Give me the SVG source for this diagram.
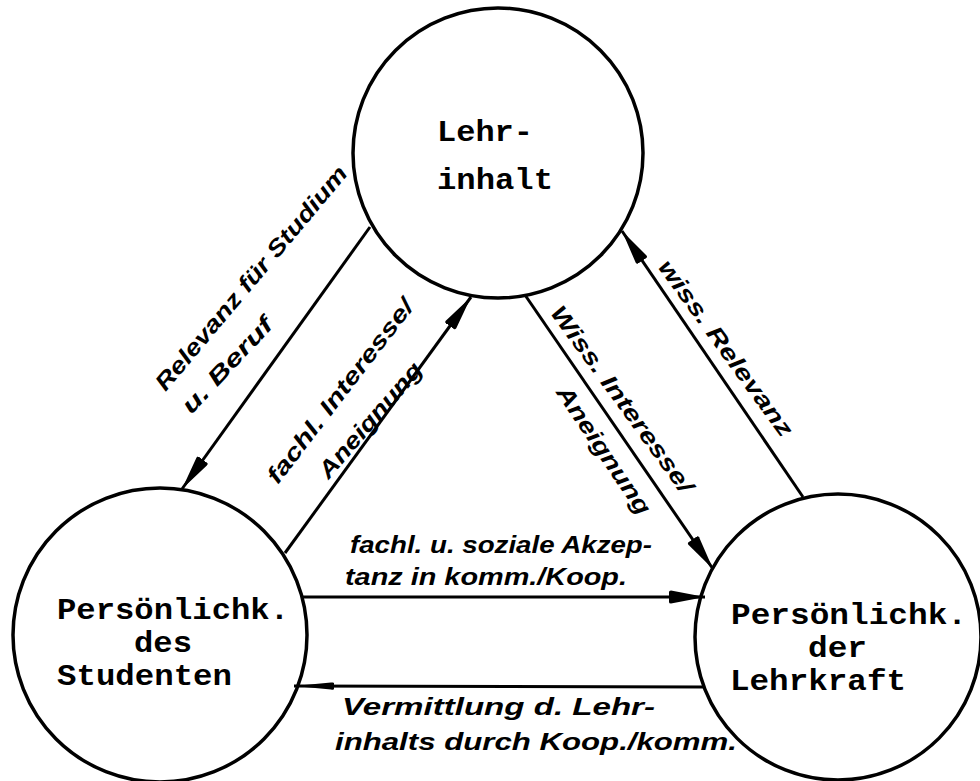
<svg xmlns="http://www.w3.org/2000/svg" width="980" height="781" viewBox="0 0 980 781">
<style>
.node{fill:none;stroke:#000;stroke-width:3.5}
.type{font-family:"Liberation Mono","DejaVu Sans Mono",monospace;font-weight:bold;font-size:29px;fill:#000}
.conn{stroke:#000;stroke-width:3;fill:none}
.hand{font-family:"Liberation Sans","DejaVu Sans",sans-serif;font-style:italic;font-weight:bold;font-size:23px;fill:#000}
</style>
<defs>
<marker id="arr" viewBox="0 0 36 14" refX="36" refY="7" markerWidth="36" markerHeight="14" markerUnits="userSpaceOnUse" orient="auto">
<path d="M0,2 Q0,0.5 2,0.5 L36,7 L2,13.5 Q0,13.5 0,12 Z" fill="#000"/>
</marker>
<marker id="arrThin" viewBox="0 0 40 8" refX="40" refY="4" markerWidth="40" markerHeight="8" markerUnits="userSpaceOnUse" orient="auto">
<path d="M0,1 Q0,0 3,0.5 L40,4 L3,7.5 Q0,8 0,7 Z" fill="#000"/>
</marker>
</defs>
<rect width="980" height="781" fill="#fff"/>
<g id="lehrinhalt">
<circle class="node" cx="498" cy="153" r="145"/>
<text class="type" x="437" y="141" textLength="96" lengthAdjust="spacingAndGlyphs">Lehr-</text>
<text class="type" x="437" y="189" textLength="116" lengthAdjust="spacingAndGlyphs">inhalt</text>
</g>
<g id="student">
<circle class="node" cx="160" cy="635" r="147"/>
<text class="type" x="57" y="619" textLength="232" lengthAdjust="spacingAndGlyphs">Persönlichk.</text>
<text class="type" x="134" y="652" textLength="58" lengthAdjust="spacingAndGlyphs">des</text>
<text class="type" x="57" y="685" textLength="175" lengthAdjust="spacingAndGlyphs">Studenten</text>
</g>
<g id="lehrkraft">
<circle class="node" cx="838" cy="637" r="143"/>
<text class="type" x="731" y="624" textLength="236" lengthAdjust="spacingAndGlyphs">Persönlichk.</text>
<text class="type" x="808" y="657" textLength="59" lengthAdjust="spacingAndGlyphs">der</text>
<text class="type" x="730" y="690" textLength="176" lengthAdjust="spacingAndGlyphs">Lehrkraft</text>
</g>
<g id="connectors">
<line class="conn" x1="370" y1="227" x2="182" y2="489" marker-end="url(#arr)"/>
<line class="conn" x1="285" y1="553" x2="471" y2="297" marker-end="url(#arr)"/>
<line class="conn" x1="525" y1="295" x2="713" y2="569" marker-end="url(#arr)"/>
<line class="conn" x1="803" y1="497" x2="622" y2="231" marker-end="url(#arr)"/>
<line class="conn" x1="301" y1="597" x2="705" y2="597" marker-end="url(#arr)"/>
<line class="conn" x1="705" y1="687" x2="294" y2="686" marker-end="url(#arrThin)"/>
</g>
<g id="labels">
<text class="hand" transform="translate(251,278) rotate(-50)" x="0" y="8" text-anchor="middle" textLength="285" lengthAdjust="spacingAndGlyphs">Relevanz für Studium</text>
<text class="hand" transform="translate(227,365) rotate(-47)" x="0" y="8" text-anchor="middle" textLength="122" lengthAdjust="spacingAndGlyphs">u. Beruf</text>
<text class="hand" transform="translate(340,391) rotate(-52.5)" x="0" y="8" text-anchor="middle" textLength="225" lengthAdjust="spacingAndGlyphs">fachl. Interesse/</text>
<text class="hand" transform="translate(370,420) rotate(-49)" x="0" y="8" text-anchor="middle" textLength="145" lengthAdjust="spacingAndGlyphs">Aneignung</text>
<text class="hand" transform="translate(622,399) rotate(54)" x="0" y="8" text-anchor="middle" textLength="225" lengthAdjust="spacingAndGlyphs">Wiss. Interesse/</text>
<text class="hand" transform="translate(604,450) rotate(56)" x="0" y="8" text-anchor="middle" textLength="150" lengthAdjust="spacingAndGlyphs">Aneignung</text>
<text class="hand" transform="translate(726,348) rotate(54)" x="0" y="8" text-anchor="middle" textLength="212" lengthAdjust="spacingAndGlyphs">wiss. Relevanz</text>
<text class="hand" x="350" y="553" textLength="302" lengthAdjust="spacingAndGlyphs">fachl. u. soziale Akzep-</text>
<text class="hand" x="345" y="585" textLength="282" lengthAdjust="spacingAndGlyphs">tanz in komm./Koop.</text>
<text class="hand" x="342" y="715" textLength="313" lengthAdjust="spacingAndGlyphs">Vermittlung d. Lehr-</text>
<text class="hand" x="335" y="750" textLength="402" lengthAdjust="spacingAndGlyphs">inhalts durch Koop./komm.</text>
</g>
</svg>
